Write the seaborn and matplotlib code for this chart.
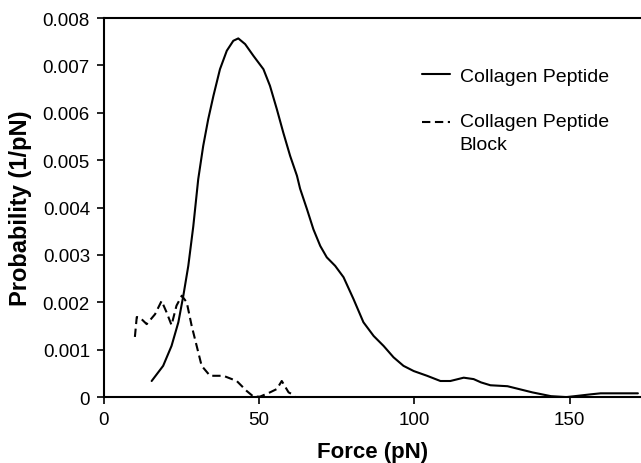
import numpy as np
import pandas as pd
import matplotlib
matplotlib.use("Agg")
import matplotlib.pyplot as plt
import seaborn as sns

# ── data ──
peptide_force = [15.4, 19.1, 21.8, 24.0, 25.6, 27.2, 28.8, 30.4, 32.0, 33.6, 35.3,
                 37.4, 39.6, 41.7, 43.3, 45.5, 48.2, 51.4, 53.5, 55.7, 57.8,
                 60.0, 62.2, 63.2, 65.4, 67.5, 69.7, 71.8, 74.5, 77.2, 80.4,
                 83.6, 86.9, 90.1, 93.3, 96.5, 99.8, 104.1, 108.4, 111.6, 115.9,
                 119.1, 121.5, 124.5, 130.0, 138.0, 144.0, 149.0, 157.0, 160.0, 172.0]
peptide_prob = [0.00034, 0.00066, 0.00108, 0.00158, 0.00214, 0.00277, 0.00360,
                0.00460, 0.00530, 0.00586, 0.00636, 0.00692, 0.00731, 0.00752,
                0.00757, 0.00745, 0.00720, 0.00692, 0.00657, 0.00608, 0.00558,
                0.00509, 0.00467, 0.00440, 0.00397, 0.00354, 0.00319, 0.00295,
                0.00277, 0.00253, 0.00207, 0.00158, 0.00129, 0.00108, 0.00084,
                0.00066, 0.00055, 0.00045, 0.00034, 0.00034, 0.00041, 0.00038,
                0.00031, 0.00025, 0.00023, 0.00010, 0.00002, 0.0, 0.00006,
                0.00008, 0.00008]

block_force = [10.0, 10.6, 11.6, 13.8, 16.5, 18.6, 20.2, 21.8, 23.4, 25.1, 26.7,
               28.3, 29.9, 31.5, 34.2, 38.5, 42.8, 46.0, 48.2, 50.3, 53.5, 55.7,
               57.3, 59.5, 61.6]
block_prob = [0.00127, 0.00169, 0.00168, 0.00154, 0.00175, 0.00203, 0.00179,
              0.00152, 0.00193, 0.00214, 0.00200, 0.00150, 0.00108, 0.00066,
              0.00045, 0.00045, 0.00034, 0.00013, 0.00001, 0.00001, 0.00010,
              0.00017, 0.00034, 0.00010, 0.00003]

labels = ["Collagen Peptide", "Collagen Peptide\nBlock"]

sns.set_style("ticks")
plt.rcParams['font.family'] = ['Liberation Sans', 'DejaVu Sans']
plt.rcParams['text.color'] = 'black'
plt.rcParams['axes.labelcolor'] = 'black'

fig = plt.figure(figsize=(6.41, 4.64), dpi=100)
ax = fig.add_axes([0.162, 0.142, 0.838, 0.817])

pep_df = pd.DataFrame({"force": peptide_force, "prob": peptide_prob})
blk_df = pd.DataFrame({"force": block_force, "prob": block_prob})

sns.lineplot(data=pep_df, x="force", y="prob", ax=ax, color="black",
             linewidth=1.5, label=labels[0], sort=False)
sns.lineplot(data=blk_df, x="force", y="prob", ax=ax, color="black",
             linewidth=1.5, linestyle=(0, (4, 2.2)), label=labels[1], sort=False)

ax.set_xlim(0, 173)
ax.set_ylim(0, 0.008)
ax.set_xticks([0, 50, 100, 150])
ax.set_yticks(np.arange(0, 0.0081, 0.001))
ax.set_yticklabels(["0"] + [f"{v:.3f}" for v in np.arange(0.001, 0.0081, 0.001)])
ax.tick_params(axis="both", direction="out", length=5, width=1.2,
               labelsize=13.5, colors="black", pad=5)

for s in ["left", "bottom", "top"]:
    ax.spines[s].set_linewidth(1.5)
    ax.spines[s].set_color("black")
ax.spines["right"].set_visible(False)

ax.set_xlabel("Force (pN)", fontsize=16, fontweight="bold", labelpad=9)
ax.set_ylabel("Probability (1/pN)", fontsize=17, fontweight="bold", labelpad=8)

leg = ax.legend(loc="upper left", bbox_to_anchor=(0.592, 0.870), frameon=False,
                fontsize=14, handlelength=1.45, labelspacing=1.47,
                handletextpad=0.5, borderpad=0, borderaxespad=0)
for t in leg.get_texts():
    t.set_linespacing(1.45)
# put the dashed handle level with the first line of its two-line label
dash = leg.get_lines()[1]
dash.set_ydata(np.asarray(dash.get_ydata()) + 8)

fig.savefig("out.png", dpi=100)
